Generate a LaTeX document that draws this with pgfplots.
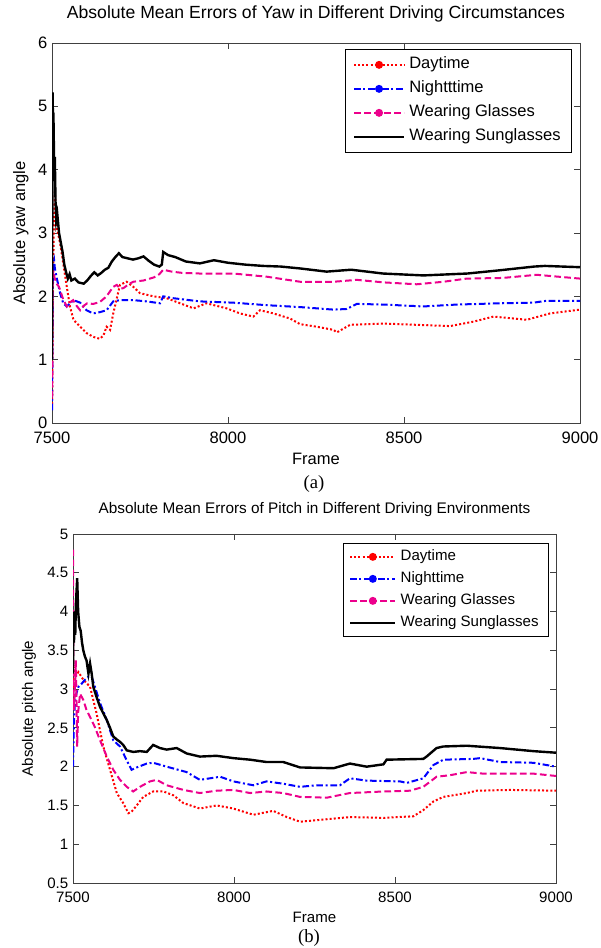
\documentclass[border=0pt]{standalone}
\usepackage{fontspec}
\setmainfont{Liberation Sans}
\newfontfamily\capfont{Liberation Serif}
\usepackage{pgfplots}
\pgfplotsset{compat=1.18}

% MATLAB-like look shared by both panels
\pgfplotsset{
  mat/.style={
    scale only axis,
    xmin=7500, xmax=9000,
    xtick={7500,8000,8500,9000},
    axis line style={black!75, line width=0.6pt},
    every tick/.style={black!75, line width=0.6pt},
    major tick length=4.5pt,
    /pgf/number format/assume math mode=true,
    /pgf/number format/1000 sep={},
    scaled ticks=false,
    legend cell align=left,
    legend style={draw=black, line width=0.6pt, anchor=north east},
  },
  mleg/.style={legend image code/.code={
      \draw[##1] (0pt,0pt) -- (#1,0pt);
      \fill[##1,solid] (#1/2,0pt) circle (2.2pt);}},
  sleg/.style={legend image code/.code={
      \draw[##1] (0pt,0pt) -- (#1,0pt);}},
  day/.style={red, line width=1.5pt, dash pattern=on 1.5pt off 1.6pt},
  night/.style={blue, line width=1.5pt, dash pattern=on 5pt off 2pt on 1.5pt off 2pt},
  glass/.style={magenta, line width=1.5pt, dash pattern=on 5pt off 2.5pt},
  sun/.style={black, line width=1.8pt},
}

\begin{document}
\begin{tikzpicture}
\path[use as bounding box] (0pt,0pt) rectangle (450pt,711pt);

% ---------------- (a) yaw ----------------
\begin{axis}[mat,
  at={(39pt,393.75pt)}, anchor=south west,
  width=396pt, height=285pt,
  ymin=0, ymax=6, ytick={0,1,2,3,4,5,6},
  font=\fontsize{12.4}{14}\selectfont,
  xticklabel style={yshift=-3pt},
  title={Absolute Mean Errors of Yaw in Different Driving Circumstances},
  title style={at={(axis description cs:0.5,1)}, anchor=base, yshift=12pt,
    font=\fontsize{13.2}{15}\selectfont},
  xlabel={Frame},
  xlabel style={at={(axis description cs:0.5,0)}, anchor=base, yshift=-31.5pt},
  ylabel={Absolute yaw angle},
  ylabel style={at={(axis description cs:-0.051,0.5)}, anchor=base},
  legend style={at={(axis description cs:1,1)}, xshift=-6pt, yshift=-4.5pt,
    inner xsep=5.25pt, inner ysep=5.6pt, row sep=6pt,
    nodes={inner xsep=3pt, inner ysep=0pt, text height=9pt, text depth=3pt}},
]
\addplot[day, mleg=37.5pt] coordinates {
(7500,0.3) (7501,0.5) (7502,1.9) (7505,3.0) (7508,3.68) (7513,3.1) (7523,2.84)
(7532,2.52) (7542,2.15) (7551,1.84) (7561,1.63) (7580,1.52) (7598,1.42)
(7617,1.36) (7636,1.33) (7646,1.38) (7655,1.52) (7665,1.47) (7674,1.73)
(7693,2.18) (7712,2.23) (7731,2.15) (7750,2.05) (7788,2.0) (7826,1.97)
(7864,1.89) (7902,1.81) (7939,1.89) (7996,1.81) (8034,1.73) (8072,1.68)
(8091,1.78) (8129,1.73) (8176,1.65) (8205,1.56) (8252,1.52) (8300,1.47)
(8309,1.43) (8347,1.55) (8442,1.57) (8536,1.55) (8631,1.53) (8697,1.6)
(8754,1.68) (8849,1.63) (8915,1.73) (9000,1.79)
};
\addlegendentry{Daytime}
\addplot[night, mleg=37.5pt] coordinates {
(7500,0.2) (7501,1.0) (7502,2.2) (7503,2.5) (7506,2.57) (7508,2.45) (7513,2.3)
(7523,2.05) (7532,1.89) (7542,1.84) (7561,1.94) (7580,1.9) (7598,1.78)
(7617,1.73) (7636,1.75) (7655,1.78) (7674,1.92) (7693,1.94) (7731,1.94)
(7769,1.92) (7807,1.89) (7816,2.0) (7845,1.97) (7920,1.92) (8015,1.9)
(8110,1.86) (8205,1.83) (8300,1.79) (8337,1.8) (8366,1.88) (8442,1.87)
(8555,1.84) (8650,1.87) (8773,1.89) (8868,1.9) (8905,1.93) (9000,1.93)
};
\addlegendentry{Nightttime}
\addplot[glass, mleg=37.5pt] coordinates {
(7500,0.4) (7501,0.9) (7502,2.3) (7504,2.4) (7507,2.3) (7513,2.2) (7520,2.15)
(7526,2.05) (7532,1.95) (7542,1.84) (7550,1.9) (7560,1.94) (7570,1.85)
(7580,1.78) (7590,1.85) (7600,1.89) (7617,1.88) (7636,1.91) (7655,2.0)
(7665,2.08) (7674,2.15) (7684,2.18) (7694,2.12) (7703,2.13) (7720,2.2)
(7731,2.23) (7760,2.25) (7790,2.3) (7805,2.35) (7816,2.42) (7840,2.39)
(7870,2.37) (7920,2.36) (8015,2.36) (8110,2.31) (8205,2.23) (8300,2.23)
(8366,2.26) (8442,2.22) (8536,2.19) (8612,2.23) (8678,2.28) (8780,2.29)
(8877,2.34) (9000,2.28)
};
\addlegendentry{Wearing Glasses}
\addplot[sun, sleg=37.5pt] coordinates {
(7500,1.0) (7501,3.5) (7502,5.22) (7503,4.3) (7504,4.9) (7506,4.1) (7508,4.2)
(7510,3.5) (7512,3.2) (7515,3.3) (7520,3.0) (7525,2.85) (7530,2.7) (7535,2.5)
(7540,2.38) (7545,2.28) (7550,2.35) (7555,2.25) (7565,2.28) (7575,2.22)
(7590,2.2) (7600,2.25) (7610,2.32) (7620,2.38) (7630,2.33) (7640,2.37)
(7650,2.42) (7660,2.45) (7670,2.55) (7680,2.62) (7690,2.68) (7700,2.62)
(7715,2.6) (7730,2.58) (7745,2.6) (7760,2.63) (7775,2.56) (7790,2.5)
(7805,2.47) (7812,2.5) (7816,2.7) (7830,2.65) (7850,2.62) (7880,2.55)
(7920,2.52) (7960,2.57) (8000,2.53) (8050,2.5) (8100,2.48) (8150,2.47)
(8205,2.44) (8280,2.39) (8350,2.42) (8440,2.36) (8555,2.33) (8680,2.36)
(8770,2.41) (8870,2.47) (8900,2.48) (9000,2.46)
};
\addlegendentry{Wearing Sunglasses}
\end{axis}

% ---------------- (b) pitch ----------------
\begin{axis}[mat,
  at={(54.75pt,48.75pt)}, anchor=south west,
  width=362.25pt, height=261.75pt,
  ymin=0.5, ymax=5, ytick={0.5,1,1.5,2,2.5,3,3.5,4,4.5,5},
  font=\fontsize{11.3}{13}\selectfont,
  xticklabel style={yshift=-3pt},
  title={Absolute Mean Errors of Pitch in Different Driving Environments},
  title style={at={(axis description cs:0.5,1)}, anchor=base, yshift=9pt,
    font=\fontsize{11.5}{13}\selectfont},
  xlabel={Frame},
  xlabel style={at={(axis description cs:0.5,0)}, anchor=base, yshift=-29.25pt},
  ylabel={Absolute pitch angle},
  ylabel style={at={(axis description cs:-0.083,0.5)}, anchor=base},
  legend style={at={(axis description cs:1,1)}, xshift=-5.25pt, yshift=-6.75pt,
    inner xsep=4.5pt, inner ysep=4.6pt, row sep=5.5pt,
    nodes={inner xsep=3pt, inner ysep=0pt, text height=8.5pt, text depth=2.5pt}},
]
\addplot[day, mleg=34pt] coordinates {
(7500,2.8) (7503,3.29) (7506,3.15) (7510,3.18) (7517,3.22) (7532,3.12)
(7553,3.03) (7573,2.69) (7594,2.26) (7615,1.96) (7636,1.66) (7656,1.53)
(7672,1.4) (7682,1.42) (7698,1.5) (7718,1.61) (7749,1.68) (7781,1.68)
(7812,1.63) (7843,1.53) (7894,1.46) (7946,1.5) (7998,1.46) (8060,1.38)
(8122,1.43) (8164,1.35) (8205,1.29) (8257,1.31) (8360,1.35) (8464,1.34)
(8557,1.36) (8588,1.44) (8619,1.55) (8650,1.61) (8723,1.66) (8754,1.69)
(8857,1.7) (9000,1.69)
};
\addlegendentry{Daytime}
\addplot[night, mleg=34pt] coordinates {
(7500,2.0) (7503,2.6) (7506,2.82) (7511,2.95) (7517,3.03) (7527,3.07)
(7537,3.12) (7548,3.16) (7558,3.16) (7568,3.03) (7584,2.82) (7605,2.6)
(7625,2.34) (7646,2.26) (7667,2.08) (7682,1.96) (7698,1.99) (7729,2.04)
(7749,2.05) (7791,2.0) (7853,1.93) (7894,1.83) (7957,1.87) (7998,1.81)
(8060,1.76) (8101,1.81) (8153,1.78) (8205,1.74) (8257,1.76) (8329,1.76)
(8360,1.85) (8412,1.82) (8516,1.81) (8536,1.79) (8588,1.85) (8619,2.02)
(8650,2.09) (8743,2.1) (8764,2.11) (8826,2.06) (8930,2.05) (9000,2.0)
};
\addlegendentry{Nighttime}
\addplot[glass, mleg=34pt] coordinates {
(7500,4.8) (7501,3.8) (7502,2.9) (7503,2.73) (7506,3.0) (7509,3.37) (7511,2.8)
(7513,2.26) (7516,2.7) (7522,2.94) (7532,2.86) (7542,2.73) (7553,2.64)
(7568,2.51) (7584,2.34) (7605,2.13) (7625,1.96) (7646,1.83) (7667,1.74)
(7687,1.68) (7708,1.74) (7739,1.81) (7760,1.83) (7791,1.76) (7843,1.7)
(7894,1.66) (7946,1.69) (7998,1.7) (8050,1.66) (8101,1.68) (8153,1.66)
(8205,1.61) (8288,1.6) (8360,1.66) (8464,1.68) (8547,1.69) (8588,1.74)
(8629,1.87) (8671,1.89) (8723,1.93) (8774,1.91) (8930,1.91) (9000,1.88)
};
\addlegendentry{Wearing Glasses}
\addplot[sun, sleg=34pt] coordinates {
(7500,3.2) (7501,4.0) (7503,3.6) (7505,3.9) (7507,3.7) (7509,4.1) (7513,4.43)
(7516,4.0) (7520,3.8) (7524,3.75) (7528,3.6) (7532,3.5) (7537,3.42)
(7542,3.37) (7548,3.2) (7553,3.33) (7558,3.2) (7563,3.03) (7573,2.9)
(7584,2.77) (7595,2.68) (7605,2.6) (7615,2.5) (7625,2.39) (7636,2.35)
(7646,2.32) (7656,2.28) (7667,2.21) (7687,2.19) (7708,2.2) (7729,2.19)
(7749,2.28) (7770,2.24) (7791,2.22) (7822,2.24) (7853,2.17) (7894,2.13)
(7946,2.14) (7998,2.11) (8050,2.09) (8101,2.06) (8153,2.06) (8205,1.99)
(8309,1.98) (8360,2.04) (8412,2.0) (8464,2.03) (8474,2.09) (8588,2.1)
(8598,2.13) (8629,2.24) (8650,2.26) (8723,2.27) (8826,2.24) (8930,2.2)
(9000,2.18)
};
\addlegendentry{Wearing Sunglasses}
\end{axis}

\node[font=\capfont\fontsize{14}{16}\selectfont, anchor=base] at (235.5pt,344.6pt) {(a)};
\node[font=\capfont\fontsize{14}{16}\selectfont, anchor=base] at (231.75pt,3.75pt) {(b)};
\end{tikzpicture}
\end{document}
